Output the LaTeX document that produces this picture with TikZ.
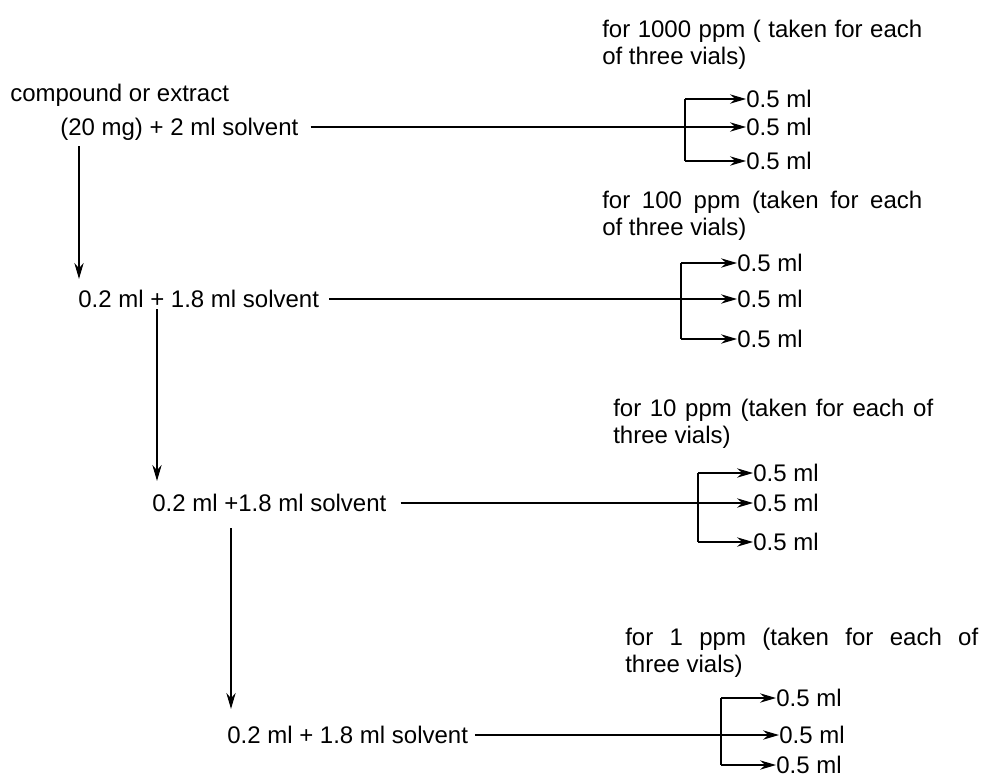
\documentclass[tikz,border=0pt]{standalone}
\usepackage{fontspec}
\setmainfont{Liberation Sans}
\usetikzlibrary{arrows.meta}
\newcommand{\spreadline}[2]{\makebox[#1][s]{#2}}

\begin{document}
\begin{tikzpicture}[x=0.75pt, y=-0.75pt, >={Stealth[length=12pt, width=7pt, inset=4pt]},
    every node/.style={inner sep=0pt, font=\fontsize{18}{20.25}\selectfont},
    stage/.style={anchor=west, text height=12.75pt, text depth=0pt},
    note/.style={anchor=north west, align=left},
    flow/.style={line width=0.8pt}]
  \useasboundingbox (0,0) rectangle (981,779);

  % Stock and dilutions
  \node[stage] (src) at (10,93) {compound or extract};
  \node[stage] (stock) at (60,127) {(20 mg) + 2 ml solvent};
  \node[stage] (dil1) at (78,299) {0.2 ml + 1.8 ml solvent};
  \node[stage] (dil2) at (152,503) {0.2 ml +1.8 ml solvent};
  \node[stage] (dil3) at (227,735) {0.2 ml + 1.8 ml solvent};

  % Notes
  \node[note] (ppm1000) at (602,20) {\spreadline{240pt}{for 1000 ppm ( taken for each}\\of three vials)};
  \node[note] (ppm100) at (602,191) {\spreadline{240pt}{for 100 ppm (taken for each}\\of three vials)};
  \node[note] (ppm10) at (613,399) {\spreadline{240pt}{for 10 ppm (taken for each of}\\three vials)};
  \node[note] (ppm1) at (625,628) {\spreadline{264.75pt}{for 1 ppm (taken for each of}\\three vials)};

  % Vials
  \node[stage] (va1) at (746,99) {0.5 ml};
  \node[stage] (va2) at (746,127) {0.5 ml};
  \node[stage] (va3) at (746,161) {0.5 ml};
  \node[stage] (vb1) at (737,263) {0.5 ml};
  \node[stage] (vb2) at (737,299) {0.5 ml};
  \node[stage] (vb3) at (737,339) {0.5 ml};
  \node[stage] (vc1) at (753,473) {0.5 ml};
  \node[stage] (vc2) at (753,503) {0.5 ml};
  \node[stage] (vc3) at (753,542) {0.5 ml};
  \node[stage] (vd1) at (776,698) {0.5 ml};
  \node[stage] (vd2) at (779,735) {0.5 ml};
  \node[stage] (vd3) at (776,765) {0.5 ml};

  % Serial dilution arrows
  \coordinate (xa) at (79,0);
  \coordinate (xb) at (157,0);
  \coordinate (xc) at (231,0);
  \draw[flow, ->, shorten <=8pt, shorten >=8.5pt] (stock.south -| xa) -- (dil1.north -| xa);
  \draw[flow, ->, shorten <=1pt, shorten >=10pt] (dil1.south -| xb) -- (dil2.north -| xb);
  \draw[flow, ->, shorten <=12.5pt, shorten >=13pt] (dil2.south -| xc) -- (dil3.north -| xc);

  % Branch 1000 ppm
  \coordinate (ta) at (685,99);
  \coordinate (ba) at (685,161);
  \draw[flow] (ta) -- (ba);
  \draw[flow, ->] (ta) -- (va1);
  \draw[flow, ->] (ba) -- (va3);
  \draw[flow, ->, shorten <=9pt] (stock) -- (va2);

  % Branch 100 ppm
  \coordinate (tb) at (681,263);
  \coordinate (bb) at (681,339);
  \draw[flow] (tb) -- (bb);
  \draw[flow, ->] (tb) -- (vb1);
  \draw[flow, ->] (bb) -- (vb3);
  \draw[flow, ->, shorten <=7.5pt] (dil1) -- (vb2);

  % Branch 10 ppm
  \coordinate (tc) at (698,473);
  \coordinate (bc) at (698,542);
  \draw[flow] (tc) -- (bc);
  \draw[flow, ->] (tc) -- (vc1);
  \draw[flow, ->] (bc) -- (vc3);
  \draw[flow, ->, shorten <=10.5pt] (dil2) -- (vc2);

  % Branch 1 ppm
  \coordinate (td) at (721,698);
  \coordinate (bd) at (721,765);
  \draw[flow] (td) -- (bd);
  \draw[flow, ->] (td) -- (vd1);
  \draw[flow, ->] (bd) -- (vd3);
  \draw[flow, ->, shorten <=5pt] (dil3) -- (vd2);
\end{tikzpicture}
\end{document}
